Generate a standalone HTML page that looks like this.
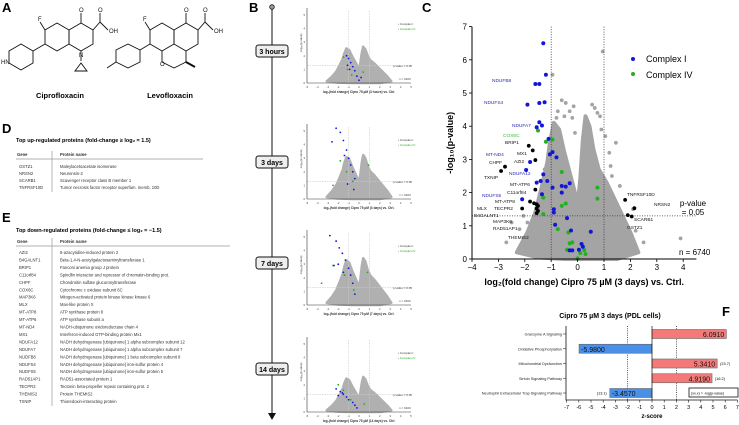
<!DOCTYPE html>
<html><head><meta charset="utf-8">
<style>
body{margin:0;background:#fff;width:739px;height:425px;overflow:hidden;font-family:"Liberation Sans",sans-serif;}
svg{position:absolute;left:0;top:0}
</style></head>
<body>
<svg id="fig" width="739" height="425" viewBox="0 0 739 425" font-family="Liberation Sans, sans-serif">
<text x="2" y="12" font-size="13" font-weight="bold">A</text>
<text x="249" y="12" font-size="13" font-weight="bold">B</text>
<text x="422" y="12" font-size="13" font-weight="bold">C</text>
<text x="2" y="133" font-size="13" font-weight="bold">D</text>
<text x="2" y="222" font-size="13" font-weight="bold">E</text>
<text x="722" y="316" font-size="13" font-weight="bold">F</text>

<g stroke="#111" stroke-width="0.9" fill="none">
<polygon points="45,30 57,23 69,30 69,44 57,51 45,44"/>
<polygon points="69,30 81,23 93,30 93,44 81,51 69,44"/>
<line x1="81" y1="23" x2="81" y2="13"/><line x1="93" y1="30" x2="100" y2="22"/><line x1="100" y1="22" x2="100" y2="13"/><line x1="100" y1="22" x2="108" y2="30"/>
<line x1="45" y1="30" x2="40" y2="22"/><line x1="45" y1="44" x2="33" y2="51"/>
<polygon points="33,51 21,44 9,51 9,63 21,70 33,63"/>
<line x1="81" y1="51" x2="81" y2="61"/><polygon points="75,71 87,71 81,63"/>
</g>
<g font-size="6" fill="#111">
<text x="38" y="21">F</text>
<text x="79" y="12">O</text>
<text x="98" y="12">O</text>
<text x="109" y="33">OH</text>
<text x="79" y="57">N</text>
<text x="1" y="64">HN</text>
</g>
<text x="60" y="98" font-size="7.5" font-weight="bold" text-anchor="middle">Ciprofloxacin</text>
<g stroke="#111" stroke-width="0.9" fill="none">
<polygon points="150,30 162,23 174,30 174,44 162,51 150,44"/>
<polygon points="174,30 186,23 198,30 198,44 186,51 174,44"/>
<line x1="186" y1="23" x2="186" y2="13"/><line x1="198" y1="30" x2="205" y2="22"/><line x1="205" y1="22" x2="205" y2="13"/><line x1="205" y1="22" x2="213" y2="30"/>
<line x1="150" y1="30" x2="145" y2="22"/><line x1="150" y1="44" x2="140" y2="50"/>
<polygon points="140,50 128,44 116,50 116,62 128,68 140,62"/>
<polyline points="162,51 162,62 174,68 186,62 186,51"/><line x1="186" y1="62" x2="195" y2="67" stroke-width="2"/>
<line x1="116" y1="62" x2="107" y2="68"/>
</g>
<g font-size="6" fill="#111">
<text x="143" y="21">F</text>
<text x="184" y="12">O</text>
<text x="203" y="12">O</text>
<text x="214" y="33">OH</text>
<text x="160" y="66">O</text>
</g>
<text x="170" y="98" font-size="7.5" font-weight="bold" text-anchor="middle">Levofloxacin</text>

<text x="16" y="142" font-size="5.5" font-weight="bold">Top up-regulated proteins (fold-change ≥ log₂ = 1.5)</text>
<g id="tableD" font-size="4.2" fill="#333"></g>
<text x="16" y="232" font-size="5.5" font-weight="bold">Top down-regulated proteins (fold-change ≤ log₂ = −1.5)</text>
<g id="tableE" font-size="4.2" fill="#333"></g>

<g id="panelB"></g>
<g id="panelC"></g>
<g id="panelF"></g>
</svg>
<script>
const upGenes=["GSTZ1","NRSN2","SCARB1","TNFRSF10D"];
const upNames=["Maleylacetoacetate isomerase","Neurensin-2","Scavenger receptor class B member 1","Tumor necrosis factor receptor superfam. memb. 10D"];
const downGenes=["AZI2","B4GALNT1","BRIP1","C11orf84","CHPF","COX6C","MAP3K6","MLX","MT-ATP8","MT-ATP6","MT-ND4","MX1","NDUFA12","NDUFA7","NUDFB8","NDUFS4","NUDFS5","RAD51AP1","TECPR2","THEMIS2","TXNIP"];
const downNames=["5-azacytidine-induced protein 2","Beta-1,4-N-acetylgalactosaminyltransferase 1","Fanconi anemia group J protein","Spindlin interactor and repressor of chromatin-binding prot.","Chondroitin sulfate glucuronyltransferase","Cytochrome c oxidase subunit 6C","Mitogen-activated protein kinase kinase kinase 6","Max-like protein X","ATP synthase protein 8","ATP synthase subunit a","NADH-ubiquinone oxidoreductase chain 4","Interferon-induced GTP-binding protein Mx1","NADH dehydrogenase [ubiquinone] 1 alpha subcomplex subunit 12","NADH dehydrogenase [ubiquinone] 1 alpha subcomplex subunit 7","NADH dehydrogenase [ubiquinone] 1 beta subcomplex subunit 8","NADH dehydrogenase [ubiquinone] iron-sulfur protein 4","NADH dehydrogenase [ubiquinone] iron-sulfur protein 5","RAD51-associated protein 1","Tectonin beta-propeller repeat containing prot. 2","Protein THEMIS2","Thioredoxin-interacting protein"];

const NS="http://www.w3.org/2000/svg";
function mk(tag,attrs,parent){const e=document.createElementNS(NS,tag);for(const k in attrs)e.setAttribute(k,attrs[k]);parent.appendChild(e);return e;}
function txt(parent,x,y,s,attrs){const e=mk('text',Object.assign({x:x,y:y},attrs||{}),parent);e.textContent=s;return e;}

function buildTable(g,genes,names,hy,ry,dy,lineEnd){
  let h=txt(g,17,hy,"Gene",{"font-weight":"bold"});
  
  
  h=txt(g,60,hy,"Protein name",{"font-weight":"bold"});
  
  
  let l=mk('line',{x1:16,x2:lineEnd,y1:hy+3,y2:hy+3,stroke:"#999","stroke-width":0.7},g);
  
  
  l=mk('line',{x1:52,x2:52,y1:hy-5,y2:ry+dy*(genes.length-1)+3,stroke:"#999","stroke-width":0.7},g);
  
  
  genes.forEach((gn,i)=>{
    let a=txt(g,19,ry+i*dy,gn);
    
    
    let b=txt(g,60,ry+i*dy,names[i]);
    
    
  });
}
buildTable(document.getElementById('tableD'),upGenes,upNames,156,168,7,203);
buildTable(document.getElementById('tableE'),downGenes,downNames,243,254,7.45,230);

// density outline of the grey protein cloud (data units)
const cloudX=[-2.3,-1.9,-1.6,-1.35,-1.15,-1.05,-0.9,-0.7,-0.5,-0.3,-0.1,0.0,0.1,0.2,0.3,0.45,0.6,0.8,1.1,1.4,1.7,2.0,2.3,1.5,0.5,-0.5,-1.5];
const cloudY=[0.2,0.8,1.4,2.2,2.9,3.5,4.1,3.9,3.2,2.6,2.0,1.6,2.4,3.6,4.3,4.0,3.3,2.7,2.3,1.8,1.3,0.8,0.2,0,0,0,0.05];
const greyX=[-0.95,-0.6,-0.45,-0.3,-0.5,0.55,0.75,0.85,1.05,-2.7,-2.2,-1.9,-1.1,1.3,1.6,2.2,1.85,3.9,-0.1,0.25,0.45,-0.15,0.95,1.45,-0.2,-0.75,0.65,1.2,-2.5,2.5,-1.25,0.9,1.25,-0.8,2.1,-2.05];
const greyY=[5.55,4.78,4.7,4.45,4.3,4.65,4.4,4.3,3.7,0.5,0.9,1.1,1.7,2.5,2.2,0.85,1.0,0.62,3.8,4.0,3.9,4.6,6.25,3.5,4.25,4.45,4.55,3.2,1.1,0.5,2.7,3.9,2.8,4.25,1.5,1.3];
const blueX=[-1.3,-1.2,-1.6,-1.45,-1.9,-1.45,-1.25,-1.45,-1.35,-1.55,-1.1,-0.95,-1.05,-0.8,-1.8,-1.3,-1.95,-1.4,-1.55,-1.15,-0.6,-0.45,-0.3,-0.6,-0.95,-1.35,-2.1,-0.9,-0.9,-0.4,-0.85,-0.25,0.5,0.15,0.2,0.05,-0.3,-0.2];
const blueY=[6.5,5.55,5.27,5.27,4.65,4.7,4.72,4.12,4.02,3.97,3.62,3.22,3.15,3.06,2.92,2.55,2.68,2.35,2.3,2.35,2.2,2.18,2.28,2.0,2.15,1.95,1.8,1.5,1.4,1.23,1.03,0.86,0.82,0.45,0.37,0.28,0.26,0.26];
const greenX=[-1.5,-0.95,-1.2,-0.6,0.75,-1.3,0.75,-0.45,-0.6,-1.3,-0.75,-0.35,-0.2,-0.3,-0.4,0.25,0.3,0,0.1];
const greenY=[3.87,3.6,3.53,2.62,2.15,1.85,1.82,1.67,1.6,1.35,0.9,0.8,0.5,0.47,0.28,0.27,0.15,0.02,0.18];
const blackX=[-1.85,-1.7,-1.6,-2.75,-2.9,-1.6,-1.8,-1.65,-2.1,-1.55,-1.55,-1.5,-1.55,-1.5,1.8,2.15,1.9,2.05];
const blackY=[3.41,3.27,2.98,2.78,2.65,2.09,1.73,1.68,1.52,1.65,1.52,1.45,1.38,1.6,1.78,1.53,1.32,1.28];
const cTicksX=[-4,-3,-2,-1,0,1,2,3,4];
const cTicksY=[0,1,2,3,4,5,6,7];

(function(){
  const g=document.getElementById('panelC');
  const X0=472,XU=26.4,Y0=259,YU=33.2;
  const sx=v=>X0+(v+4)*XU, sy=v=>Y0-v*YU;
  let e=mk('polygon',{points:cloudX.map((v,i)=>sx(v)+","+sy(cloudY[i])).join(" "),fill:"#a4a4a4",stroke:"#a4a4a4","stroke-width":4,"stroke-linejoin":"round"},g);
  
  
  greyX.forEach((v,i)=>{const c=mk('circle',{cx:sx(v),cy:sy(greyY[i]),r:1.9,fill:"#a4a4a4"},g);
    
    });
  e=mk('line',{x1:sx(-1),x2:sx(-1),y1:sy(7),y2:Y0,stroke:"#333","stroke-width":0.8,"stroke-dasharray":"1,1.5"},g);
  
  
  e=mk('line',{x1:sx(1),x2:sx(1),y1:sy(7),y2:Y0,stroke:"#333","stroke-width":0.8,"stroke-dasharray":"1,1.5"},g);
  
  
  e=mk('line',{x1:X0,x2:sx(4.5),y1:sy(1.3),y2:sy(1.3),stroke:"#333","stroke-width":0.8,"stroke-dasharray":"1,1.5"},g);
  
  
  blackX.forEach((v,i)=>{const c=mk('circle',{cx:sx(v),cy:sy(blackY[i]),r:1.9,fill:"#000"},g);
    
    });
  greenX.forEach((v,i)=>{const c=mk('circle',{cx:sx(v),cy:sy(greenY[i]),r:2,fill:"#22b022"},g);
    
    });
  blueX.forEach((v,i)=>{const c=mk('circle',{cx:sx(v),cy:sy(blueY[i]),r:2,fill:"#1515d8"},g);
    
    });
  e=mk('path',{d:`M${X0},${sy(7)}V${Y0}H${sx(4.5)}`,stroke:"#000",fill:"none","stroke-width":1},g);
  
  
  cTicksX.forEach(t=>{mk('line',{x1:sx(t),x2:sx(t),y1:Y0,y2:Y0+3,stroke:"#000","stroke-width":0.8},g);
    const l=txt(g,sx(t),Y0+11,String(t).replace('-','−'),{"font-size":8,"text-anchor":"middle"});
    
    });
  cTicksY.forEach(t=>{mk('line',{x1:X0-3,x2:X0,y1:sy(t),y2:sy(t),stroke:"#000","stroke-width":0.8},g);
    const l=txt(g,X0-5,sy(t)+3,String(t),{"font-size":8,"text-anchor":"end"});
    
    });
  e=txt(g,0,0,"-log₁₀(p-value)",{"font-size":9,"font-weight":"bold","text-anchor":"middle",transform:`translate(453,${sy(3.5)}) rotate(-90)`});
  
  
  e=txt(g,sx(0.25),285,"log₂(fold change) Cipro 75 µM (3 days) vs. Ctrl.",{"font-size":9,"font-weight":"bold","text-anchor":"middle"});
  
  
  e=mk('circle',{cx:633,cy:59,r:2,fill:"#1515d8"},g);
  
  
  e=txt(g,646,62,"Complex I",{"font-size":9});
  
  
  e=mk('circle',{cx:633,cy:74,r:2,fill:"#22b022"},g);
  
  
  e=txt(g,646,78,"Complex IV",{"font-size":9});
  
  
  e=txt(g,693,206,"p-value",{"font-size":8,"text-anchor":"middle"});
  
  
  e=txt(g,693,215,"= 0.05",{"font-size":8,"text-anchor":"middle"});
  
  
  e=txt(g,679,255,"n = 6740",{"font-size":8});
  
  
  const lbl=[["NDUFB8",492,82,"#2a2ab0"],["NDUFS4",484,104,"#2a2ab0"],["NDUFA7",512,127,"#2a2ab0"],["COX6C",503,137,"#3cb83c"],["BRIP1",505,144,"#111"],["MX1",517,155,"#111"],["AZI2",514,163,"#111"],["MT-ND4",486,156,"#2a2ab0"],["CHPF",489,164,"#111"],["TXNIP",484,179,"#111"],["NDUFA12",509,175,"#2a2ab0"],["MT-ATP6",510,186,"#111"],["C11orf84",507,194,"#111"],["NDUFS5",482,197,"#2a2ab0"],["MT-ATP8",495,203,"#111"],["MLX",477,210,"#111"],["TECPR2",494,210,"#111"],["B4GALNT1",474,217,"#111"],["MAP3K6",493,223,"#111"],["RAD51AP1",493,230,"#111"],["THEMIS2",508,239,"#111"],["TNFRSF10D",627,196,"#111"],["NRSN2",654,206,"#111"],["SCARB1",634,221,"#111"],["GSTZ1",627,229,"#111"]];
  lbl.forEach(a=>{const t=txt(g,a[1],a[2],a[0],{"font-size":4.8,fill:a[3]});
    
    });
})();

const bTimes=["3 hours","3 days","7 days","14 days"];
const bPeak=[0.62,0.75,0.8,0.6];
const bBlueX=[[-1.2,-1.0,-0.8,-0.6,-0.4,-0.2,0.0,0.2,-1.1,-0.9],[-2.2,-1.8,-1.5,-1.2,-1.0,-0.8,-0.6,-0.4,-1.4,-2.6,-1.1,-0.5],[-2.8,-2.2,-1.9,-1.6,-1.3,-1.0,-0.8,-0.6,-2.0,-1.5,-0.4,-2.4],[-2.2,-1.8,-1.5,-1.2,-1.0,-0.6,-0.4,-0.2,-1.6,-2.0]];
const bBlueY=[[2.0,1.8,1.5,1.2,0.9,0.5,0.2,0.4,1.3,1.0],[5.2,4.9,4.3,3.6,3.0,2.5,2.0,1.5,3.2,4.2,1.1,0.7],[5.1,4.7,4.2,3.8,3.3,2.7,2.2,1.6,3.0,2.4,0.8,2.9],[1.7,1.5,1.3,1.1,0.9,0.7,0.5,0.3,1.4,1.2]];
const bGreenX=[[-1.5,-1.1,-0.7,0.4],[-1.8,-1.2,-0.6,0.9,-2.5],[-3.6,-2.5,-1.4,0.8,-0.5],[-2.0,-1.5,-0.8,0.5]];
const bGreenY=[[1.9,1.0,0.6,0.8],[2.8,2.0,1.3,2.5,1.0],[1.6,2.9,2.2,2.4,1.1],[2.0,1.6,0.9,0.6]];
const bBase=[83,199,305,412];
const bLabelY=[51,162,263,369];
const bTicksX=[-5,-4,-3,-2,-1,0,1,2,3,4,5];
const bTicksY=[0,1,2,3,4,5];
(function(){
  const g=document.getElementById('panelB');
  let e=mk('line',{x1:272,x2:272,y1:7,y2:414,stroke:"#111","stroke-width":1},g);
  
  
  e=mk('circle',{cx:272,cy:7,r:2.3,fill:"#999",stroke:"#111","stroke-width":0.8},g);
  
  
  e=mk('polygon',{points:"268,413 276,413 272,420",fill:"#111"},g);
  
  
  bTimes.forEach((t,k)=>{
    const r=mk('rect',{x:256,y:bLabelY[k]-6,width:32,height:12,rx:2.5,fill:"#eee",stroke:"#111","stroke-width":1},g);
    
    
    const l=txt(g,272,bLabelY[k]+3,t,{"font-size":7,"font-weight":"bold","text-anchor":"middle"});
    
    
    const X0=307,XU=10.4,Y0=bBase[k],YU=13.6;
    const sx=v=>X0+(v+5)*XU, sy=v=>Y0-v*YU;
    const pk=bPeak[k];
    let p=mk('polygon',{points:cloudX.map((v,i)=>sx(v*1.35)+","+sy(cloudY[i]*pk)).join(" "),fill:"#b0b0b0",stroke:"#b0b0b0","stroke-width":2.5,"stroke-linejoin":"round"},g);
    
    
    mk('line',{x1:sx(-1),x2:sx(-1),y1:Y0-72,y2:Y0,stroke:"#ccc","stroke-width":0.6,"stroke-dasharray":"1.5,1"},g);
    mk('line',{x1:sx(1),x2:sx(1),y1:Y0-72,y2:Y0,stroke:"#ccc","stroke-width":0.6,"stroke-dasharray":"1.5,1"},g);
    mk('line',{x1:X0,x2:sx(5),y1:sy(1.3),y2:sy(1.3),stroke:"#ccc","stroke-width":0.6,"stroke-dasharray":"1.5,1"},g);
    bGreenX[k].forEach((v,i)=>{const c=mk('circle',{cx:sx(v),cy:sy(bGreenY[k][i]),r:0.9,fill:"#22b022"},g);
      
      });
    bBlueX[k].forEach((v,i)=>{const c=mk('circle',{cx:sx(v),cy:sy(bBlueY[k][i]),r:0.9,fill:"#1515d8"},g);
      
      });
    p=mk('path',{d:`M${X0},${Y0-75}V${Y0}H${sx(5)}`,stroke:"#333",fill:"none","stroke-width":0.6},g);
    
    
    bTicksX.forEach(t=>{const l=txt(g,sx(t),Y0+5,String(t),{"font-size":2.8,"text-anchor":"middle",fill:"#444"});
      
      });
    bTicksY.forEach(t=>{const l=txt(g,X0-2,sy(t)+1,String(t),{"font-size":2.8,"text-anchor":"end",fill:"#444"});
      
      });
    let q=txt(g,359,Y0+10,"log₂(fold change) Cipro 75 µM ("+t+") vs. Ctrl.",{"font-size":3.2,"font-weight":"bold","text-anchor":"middle",fill:"#333"});
    
    
    q=txt(g,0,0,"-log₁₀(p-value)",{"font-size":3,"text-anchor":"middle",fill:"#333",transform:`translate(302,${Y0-40}) rotate(-90)`});
    
    
    q=txt(g,398,Y0-58,"• Complex I",{"font-size":3,fill:"#333"});
    
    
    q=txt(g,398,Y0-53,"• Complex IV",{"font-size":3,fill:"#2a2"});
    
    
    q=txt(g,393,Y0-16,"p-value = 0.05",{"font-size":3,fill:"#444"});
    
    
    q=txt(g,399,Y0-3,"n = 6400",{"font-size":3,fill:"#444"});
    
    
  });
})();

const fPathways=["Granzyme A Signaling","Oxidative Phosphorylation","Mitochondrial Dysfunction","Sirtuin Signaling Pathway","Neutrophil Extracellular Trap Signaling Pathway"];
const fZ=[6.091,-5.98,5.341,4.919,-3.457];
const fZLabels=["6.0910","-5.9800","5.3410","4.9190","-3.4570"];
const fLogP=["","","(23.7)","(16.2)","(13.1)"];
const fTicks=[-7,-6,-5,-4,-3,-2,-1,0,1,2,3,4,5,6,7];
(function(){
  const g=document.getElementById('panelF');
  const X0=652,XU=12.2,Y1=334,DY=14.75,AX=400;
  const sx=v=>X0+v*XU;
  let e=txt(g,610,318,"Cipro 75 µM 3 days (PDL cells)",{"font-size":7,"font-weight":"bold","text-anchor":"middle"});
  
  
  [-2,2].forEach(v=>{const l=mk('line',{x1:sx(v),x2:sx(v),y1:326,y2:AX,stroke:"#333","stroke-width":0.8,"stroke-dasharray":"1,1.2"},g);
    
    });
  fZ.forEach((z,i)=>{
    const y=Y1+i*DY;
    const r=mk('rect',{x:Math.min(sx(0),sx(z)),y:y-4.5,width:Math.abs(z)*XU,height:9,fill:z>0?"#f47a7a":"#4a8fe8",stroke:"#666","stroke-width":0.6},g);
    
    
    const v=txt(g,z>0?sx(z)-2:sx(z)+2,y+3,fZLabels[i],{"font-size":7,"text-anchor":z>0?"end":"start",fill:"#111"});
    
    
    if(fLogP[i]){const p=txt(g,z>0?sx(z)+3:sx(z)-3,y+1.5,fLogP[i],{"font-size":3.8,"text-anchor":z>0?"start":"end"});
      
      }
    mk('line',{x1:563,x2:566,y1:y,y2:y,stroke:"#333","stroke-width":0.6},g);
    const c=txt(g,562,y+1.5,fPathways[i],{"font-size":3.8,"text-anchor":"end",fill:"#222"});
    
    
  });
  e=mk('line',{x1:sx(0),x2:sx(0),y1:326,y2:AX,stroke:"#111","stroke-width":0.7},g);
  
  
  e=mk('path',{d:`M566,326V${AX}H${sx(7)}`,stroke:"#111",fill:"none","stroke-width":0.8},g);
  
  
  fTicks.forEach(t=>{mk('line',{x1:sx(t),x2:sx(t),y1:AX,y2:AX+2.5,stroke:"#111","stroke-width":0.6},g);
    const l=txt(g,sx(t),AX+9,String(t),{"font-size":5.5,"text-anchor":"middle"});
    
    });
  e=txt(g,sx(0),AX+18,"z-score",{"font-size":6,"font-weight":"bold","text-anchor":"middle"});
  
  
  e=mk('rect',{x:689,y:388,width:49,height:9,fill:"#fff",stroke:"#111","stroke-width":0.8},g);
  
  
  e=txt(g,691,394.5,"(xx.x) = -log(p-value)",{"font-size":3.6});
  
  
})();
</script>
</body></html>
